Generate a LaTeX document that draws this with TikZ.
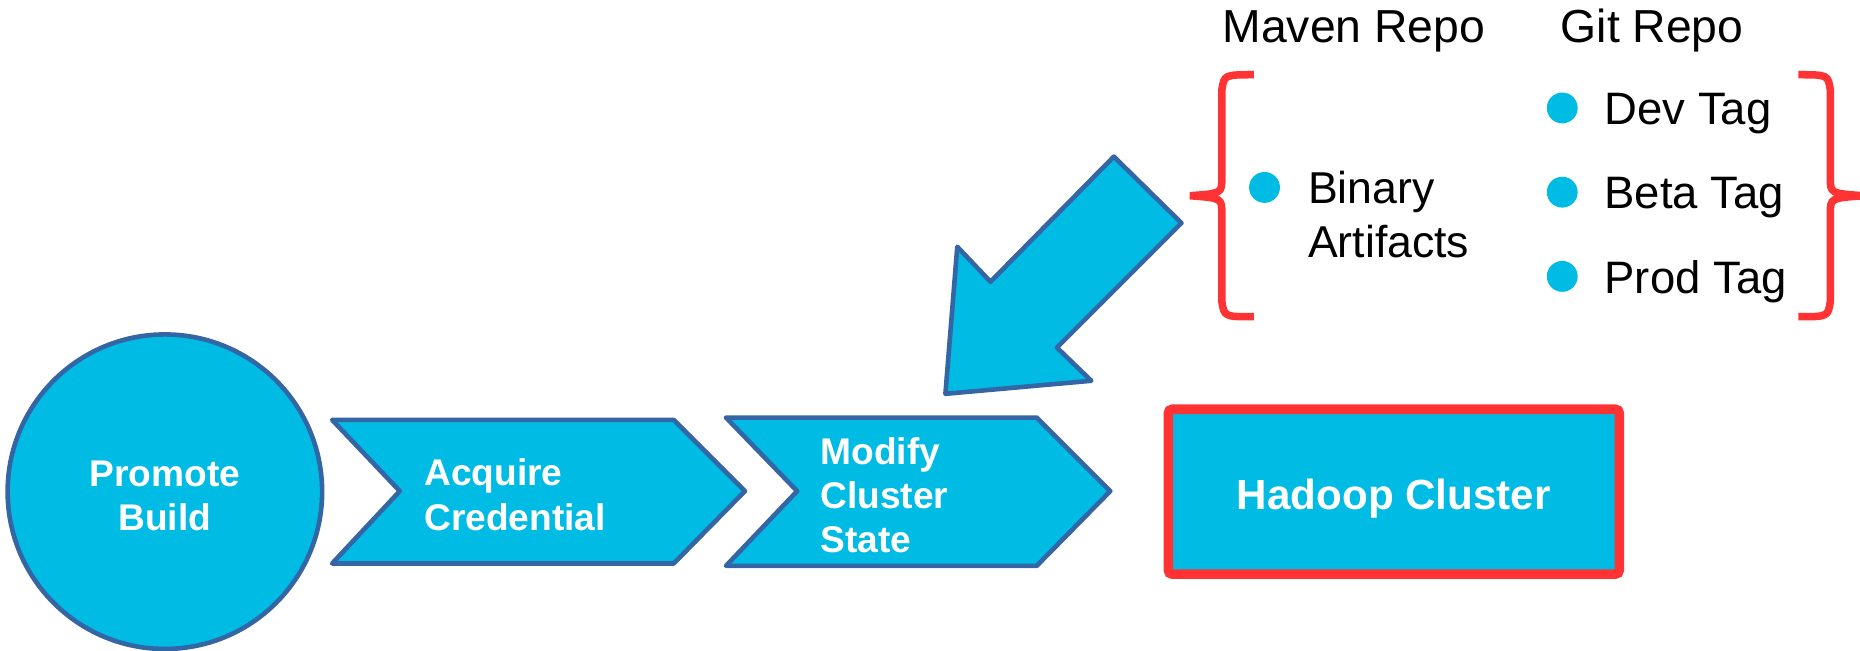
\documentclass[tikz,border=0pt]{standalone}
\usepackage{fontspec}
\setmainfont{Liberation Sans}
\usetikzlibrary{calc}

\definecolor{boxfill}{RGB}{0,187,227}
\definecolor{boxline}{RGB}{52,101,164}
\definecolor{bracered}{RGB}{255,51,51}

\begin{document}
\begin{tikzpicture}[x=0.01cm, y=-0.01cm,
    stage/.style={draw=boxline, fill=boxfill, line width=1.1pt, line join=round},
    steplabel/.style={text=white, font=\fontsize{8.9}{10.6}\selectfont\bfseries,
    align=left, inner sep=0pt, anchor=west},
    repo/.style={font=\fontsize{11.1}{13}\selectfont, inner sep=0pt, anchor=base west},
    item/.style={font=\fontsize{10.9}{12.8}\selectfont, inner sep=0pt, anchor=base west},
    dot/.style={circle, fill=boxfill, inner sep=0pt, minimum size=0.26cm},
    brace/.style={draw=bracered, line width=1.8pt}]
  \useasboundingbox (0,0) rectangle (1568,548);
  % pipeline
  \node[stage, circle, minimum size=2.65cm, inner sep=0pt] (promote) at (139,414.5) {};
  \node[steplabel, anchor=center, align=center] (promotetext) at (139,418) {Promote\\Build};
  \draw[stage] (280,354) -- (568,354) -- (628,414) -- (568,475) -- (280,475) -- (337,414) -- cycle;
  \node[steplabel] (acquire) at (357,417) {Acquire\\Credential};
  \draw[stage] (612,352) -- (874,352) -- (936,414) -- (874,477) -- (612,477) -- (672,414) -- cycle;
  \node[steplabel] (modify) at (691,417.5) {Modify\\Cluster\\State};
  \node[draw=bracered, line width=2.3pt, fill=boxfill, rounded corners=1pt,
    minimum width=3.80cm, minimum height=1.39cm, text=white,
    font=\fontsize{10.1}{12}\selectfont\bfseries] (hadoop) at (1175,414.5)
    {\raisebox{-0.17em}[0.73em][0.21em]{Hadoop Cluster}};
  % big arrow
  \draw[stage] (939,132) -- (996,188) -- (891,293) -- (920,321) -- (797,332)
    -- (807,208) -- (835,237.5) -- cycle;
  % repos
  \node[repo] (maven) at (1030,36) {Maven Repo};
  \node[repo] (git) at (1315,36) {Git Repo};
  \draw[brace] (1057,63) .. controls (1032,63) .. (1030,76) -- (1030,150)
    .. controls (1030,163) .. (1003,165) .. controls (1030,167) .. (1030,180)
    -- (1030,254) .. controls (1032,267) .. (1057,267);
  \draw[brace] (1516,63) .. controls (1541,63) .. (1543,76) -- (1543,150)
    .. controls (1543,163) .. (1571,165) .. controls (1543,167) .. (1543,180)
    -- (1543,254) .. controls (1541,267) .. (1516,267);
  \node[dot] (bindot) at (1066,158) {};
  \node[item, anchor=west, align=left, font=\fontsize{10.7}{12.8}\selectfont] (binary) at (1102,181) {Binary\\Artifacts};
  \node[dot] (devdot) at (1317,91) {};
  \node[item] (dev) at (1352,105) {Dev Tag};
  \node[dot] (betadot) at (1317,162) {};
  \node[item] (beta) at (1352,176) {Beta Tag};
  \node[dot] (proddot) at (1317,233) {};
  \node[item] (prod) at (1352,247) {Prod Tag};
\end{tikzpicture}
\end{document}
